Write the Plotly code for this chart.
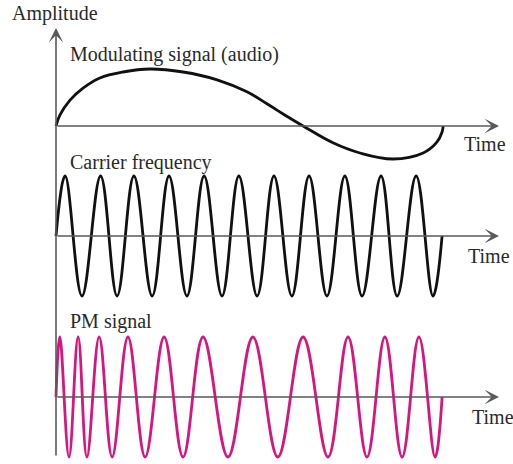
import plotly.graph_objects as go

# ---- data (time in carrier periods, amplitude in carrier amplitudes)
mod_t = [0, 0.11, 0.40, 0.77, 1.25, 1.91, 2.68, 3.62, 4.59, 5.44, 6.01, 6.47, 7.04, 7.89, 8.66, 9.60, 10.46, 10.85, 11.0, 11.03]
mod_amp = [0, 0.18, 0.43, 0.63, 0.80, 0.90, 0.95, 0.90, 0.77, 0.57, 0.37, 0.20, 0, -0.28, -0.45, -0.55, -0.45, -0.27, -0.10, 0]

carrier_t = [0, 0.26, 0.74, 1.27, 1.74, 2.22, 2.74, 3.22, 3.73, 4.22, 4.73, 5.21, 5.73,
             6.21, 6.72, 7.21, 7.72, 8.23, 8.72, 9.26, 9.72, 10.26, 10.74, 11.0]
carrier_amp = [0, 1, -1, 1, -1, 1, -1, 1, -1, 1, -1, 1, -1, 1, -1, 1, -1, 1, -1, 1, -1, 1, -1, 0]

pm_t = [0, 0.11, 0.37, 0.63, 0.88, 1.23, 1.60, 2.05, 2.54, 3.08, 3.62, 4.19, 4.90,
        5.61, 6.32, 7.04, 7.75, 8.32, 8.86, 9.37, 9.86, 10.34, 10.80, 11.0]
pm_amp = [0, 1, -1, 1, -1, 1, -1, 1, -1, 1, -1, 1, -1, 1, -1, 1, -1, 1, -1, 1, -1, 1, -1, 0]

labels = ["Modulating signal (audio)", "Carrier frequency", "PM signal"]
axis_label = "Amplitude"
time_label = "Time"

# ---- layout helpers (pixels of the 513x464 picture)
W, H = 513, 464
X0, PX_PER_T = 56, 35.1
AMP_PX = 60
baselines = [126, 236, 397]

def px_to_t(px):
    return (px - X0) / PX_PER_T

fig = go.Figure()

traces = [(mod_t, mod_amp, "#111111"), (carrier_t, carrier_amp, "#111111"), (pm_t, pm_amp, "#d6157f")]
for i, (t, a, col) in enumerate(traces):
    yname = "y" if i == 0 else "y%d" % (i + 1)
    fig.add_trace(go.Scatter(x=t, y=a, mode="lines", yaxis=yname,
                             line=dict(color=col, width=2.8, shape="spline", smoothing=1.1),
                             showlegend=False, hoverinfo="skip"))

layout = dict(width=W, height=H, margin=dict(l=0, r=0, t=0, b=0),
              paper_bgcolor="white", plot_bgcolor="white",
              xaxis=dict(visible=False, range=[px_to_t(0), px_to_t(W)]))
for i, b in enumerate(baselines):
    key = "yaxis" if i == 0 else "yaxis%d" % (i + 1)
    ax = dict(visible=False, range=[(b - H) / AMP_PX, b / AMP_PX])
    if i > 0:
        ax["overlaying"] = "y"
    layout[key] = ax
fig.update_layout(**layout)

axcol = "#5a5a5a"
ann = []
# time axes with arrows
for i, b in enumerate(baselines):
    yr = "y" if i == 0 else "y%d" % (i + 1)
    ann.append(dict(x=px_to_t(499), y=0, xref="x", yref=yr, ax=0, ay=0, axref="x", ayref=yr,
                    text="", showarrow=True, arrowhead=3, arrowsize=1.5, arrowwidth=1.6, arrowcolor=axcol))
# amplitude axis
ann.append(dict(x=0, y=(126 - 28) / AMP_PX, xref="x", yref="y", ax=0, ay=(126 - 457) / AMP_PX,
                axref="x", ayref="y", text="", showarrow=True, arrowhead=3, arrowsize=1.5,
                arrowwidth=1.6, arrowcolor=axcol))

font = dict(family="Liberation Serif, Times New Roman, serif", size=20, color="#2a2a2a")
def txt(s, px, py, anchor="left"):
    ann.append(dict(text=s, x=px / W, y=1 - py / H, xref="paper", yref="paper",
                    xanchor=anchor, yanchor="middle", showarrow=False, font=font))

txt(axis_label, 10, 13)
txt(labels[0], 68, 54)
txt(labels[1], 68, 162)
txt(labels[2], 68, 321)
txt(time_label, 462, 144)
txt(time_label, 466, 256)
txt(time_label, 470, 417)

fig.update_layout(annotations=ann)
# drop the browser's default body margin so the figure sits at the page corner
fig.write_html("out.html", config={"displayModeBar": False},
               post_script="document.body.style.margin='0';")
